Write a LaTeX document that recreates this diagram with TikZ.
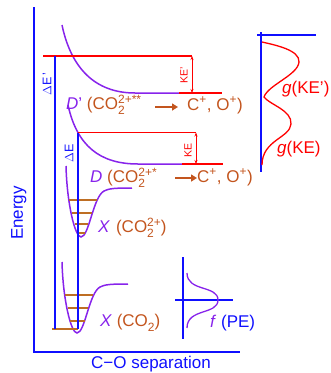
\documentclass[tikz,border=0pt]{standalone}
\usepackage{fontspec}
\setmainfont{Liberation Sans}
\usetikzlibrary{arrows.meta}
\definecolor{axblue}{RGB}{15,15,255}
\definecolor{purp}{RGB}{135,35,235}
\definecolor{brn}{RGB}{195,85,30}
\definecolor{lvl}{RGB}{190,110,35}
\definecolor{rd}{RGB}{255,0,0}
\newcommand{\chemss}[2]{\makebox[0pt][l]{\raisebox{-5pt}{\fontsize{12}{12}\selectfont #1}}\raisebox{5.5pt}{\fontsize{12}{12}\selectfont #2}}
\newcommand{\chemsb}[1]{\raisebox{-5pt}{\fontsize{12}{12}\selectfont #1}}
\begin{document}
\begin{tikzpicture}[x=1pt,y=-1pt,
 lbl/.style={font=\fontsize{17}{20}\selectfont, inner sep=0pt, anchor=base west},
 axis/.style={axblue, line width=2pt},
 well/.style={purp, line width=1.5pt},
 lvlline/.style={lvl, line width=2pt},
 redline/.style={rd, line width=1.5pt},
 gapline/.style={axblue, line width=1.1pt},
 kearrow/.style={rd, line width=0.8pt, {Stealth[length=4pt,width=3pt]}-{Stealth[length=4pt,width=3pt]}},
 labarrow/.style={brn, line width=2.8pt, -{Triangle[length=6pt,width=7pt]}},
 rotlbl/.style={inner sep=0pt, rotate=90}]
\useasboundingbox (0,0) rectangle (331,373);

% main axes
\coordinate (top) at (34,7);
\coordinate (origin) at (34,352);
\coordinate (xend) at (240,352);
\draw[axis] (top) -- (origin) -- (xend);
\node[font=\fontsize{17}{20}\selectfont, text=axblue, rotate=90, anchor=base, inner sep=0pt] (en) at (23,213) {Energy};
\node[lbl, text=axblue] (sep) at (91,368) {C\char"2212 O separation};

% D' curve
\draw[well] (62,25) .. controls (71,68) and (95,93) .. (135,93) -- (179,93);
\draw[redline] (179,93) -- (222,93);
% D curve
\draw[well] (68,105) .. controls (77,146) and (100,164) .. (138,164) -- (182,164);
\draw[redline] (182,164) -- (223,164);

% wells
\foreach \sx/\sy in {0/0, 4/-96}{
  \begin{scope}[shift={(\sx,\sy)}]
    \draw[well] (62,262) .. controls (63,300) and (71,333) .. (77,333)
      .. controls (85,333) and (89,293) .. (100,287)
      .. controls (105,284.5) and (110,284) .. (128,284);
  \end{scope}
}
% vibrational levels
\draw[lvlline] (65,295) -- (93,295);
\draw[lvlline] (68,308) -- (88,308);
\draw[lvlline] (70,321) -- (85,321);
\draw[lvlline] (52,329) -- (78,329);
\draw[lvlline] (69,200) -- (97,200);
\draw[lvlline] (72,213) -- (92,213);
\draw[lvlline] (75,224) -- (88,224);
\draw[lvlline] (77,233) -- (85,233);

% excitation lines
\coordinate (dpl) at (43,56);
\coordinate (dpr) at (192,56);
\coordinate (dl) at (77.5,132.5);
\coordinate (dr) at (196,132.5);
\draw[redline] (dpl) -- (dpr);
\draw[redline] (dl) -- (dr);
\coordinate (g1top) at (55,56);
\coordinate (g1bot) at (55,329);
\coordinate (g2bot) at (77.5,329);
\draw[gapline] (g1top) -- (g1bot);
\draw[axis] (dl) -- (g2bot);
\node[rotlbl, text=axblue, font=\fontsize{12.5}{14}\selectfont] (dEp) at (47,84) {$\Delta$E\,'};
\node[rotlbl, text=axblue, font=\fontsize{12.5}{14}\selectfont] (dE) at (69,153) {$\Delta$E};

% KE arrows
\coordinate (kp1) at (192,93);
\coordinate (k1) at (196,164);
\draw[kearrow] (dpr) -- (kp1);
\draw[kearrow] (dr) -- (k1);
\node[rotlbl, text=rd, font=\fontsize{10.5}{12}\selectfont] (KEp) at (184,75) {KE'};
\node[rotlbl, text=rd, font=\fontsize{10.5}{12}\selectfont] (KE) at (188,150) {KE};

% state labels
\node[lbl] (Dp) at (66,109) {\textcolor{purp}{\textit{D}'} \textcolor{brn}{(CO\chemss{2}{2+**}}};
\node[lbl, text=brn] (Dpprod) at (187,110) {C\textsuperscript{+}, O\textsuperscript{+})};
\coordinate (a1) at (155,107);
\coordinate (a2) at (178,107);
\draw[labarrow] (a1) -- (a2);

\node[lbl] (D) at (90,182) {\textcolor{purp}{\textit{D}} \textcolor{brn}{(CO\chemss{2}{2+*}}};
\node[lbl, text=brn] (Dprod) at (197,182) {C\textsuperscript{+}, O\textsuperscript{+})};
\coordinate (b1) at (175,178);
\coordinate (b2) at (197,178);
\draw[labarrow] (b1) -- (b2);

\node[lbl] (X2) at (98,232) {\textcolor{purp}{\textit{X}}\hspace{6pt}\textcolor{brn}{(CO\chemss{2}{2+})}};
\node[lbl] (X0) at (100,326) {\textcolor{purp}{\textit{X}} \textcolor{brn}{(CO\chemsb{2})}};

% f(PE) inset
\coordinate (fv1) at (183,257);
\coordinate (fv2) at (183,339);
\coordinate (fh1) at (175,300);
\coordinate (fh2) at (233,300);
\draw[axis] (fv1) -- (fv2);
\draw[axis] (fh1) -- (fh2);
\draw[purp, line width=1.3pt] (187,273) .. controls (187,292) and (218,285) .. (218,300)
   .. controls (218,315) and (187,308) .. (187,328);
\node[lbl] (fPE) at (210,327) {\textcolor{purp}{\textit{f}} \textcolor{axblue}{(PE)}};

% g(KE) inset
\coordinate (gv1) at (261,32);
\coordinate (gv2) at (261,172);
\coordinate (gh1) at (257,35);
\coordinate (gh2) at (316,35);
\draw[axis] (gv1) -- (gv2);
\draw[axis] (gh1) -- (gh2);
\draw[rd, line width=1.3pt] (262,42) .. controls (275,45) and (300,50) .. (299,62)
   .. controls (298,75) and (268,85) .. (264,97)
   .. controls (270,105) and (292,110) .. (291,124)
   .. controls (290,138) and (262,140) .. (262,165);
\node[lbl, text=rd] (gKEp) at (282,93) {\textit{g}(KE')};
\node[lbl, text=rd] (gKE) at (277,153) {\textit{g}(KE)};
\end{tikzpicture}
\end{document}
